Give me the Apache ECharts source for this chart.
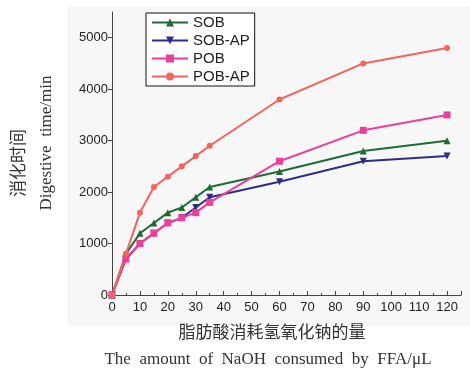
<!DOCTYPE html>
<html>
<head>
<meta charset="utf-8">
<script src="https://cdn.jsdelivr.net/npm/echarts@6/dist/echarts.min.js"></script>
<style>
  html, body { margin: 0; padding: 0; background: #fff; }
  #chart { width: 470px; height: 381px; }
</style>
</head>
<body>
<div id="chart"></div>
<script>
// NaOH consumed by FFA (μL)
const amounts = [0, 5, 10, 15, 20, 25, 30, 35, 60, 90, 120];
const sob = [0, 800, 1200, 1400, 1600, 1700, 1900, 2100, 2400, 2800, 3000];
const sobAp = [0, 700, 1000, 1200, 1400, 1500, 1700, 1900, 2200, 2600, 2700];
const pob = [0, 700, 1000, 1200, 1400, 1500, 1600, 1800, 2600, 3200, 3500];
const pobAp = [0, 800, 1600, 2100, 2300, 2500, 2700, 2900, 3800, 4500, 4800];

const pairs = arr => amounts.map((x, i) => [x, arr[i]]);

const chart = echarts.init(document.getElementById('chart'));

function line(name, data, color, symbol, rotate) {
  return {
    name, type: 'line', data: pairs(data),
    symbol, symbolSize: symbol === 'circle' ? 6 : 7, symbolRotate: rotate || 0,
    lineStyle: { color, width: 2 },
    itemStyle: { color },
    animation: false
  };
}

chart.setOption({
  backgroundColor: '#fff',
  graphic: [
    { type: 'rect', z: -10, shape: { x: 67, y: 7, width: 403, height: 319 }, style: { fill: '#f7f7f7' } },
    { type: 'text', x: 18, y: 163, rotation: Math.PI / 2, style: { text: '消化时间', font: '17px "Noto Sans CJK SC"', fill: '#333', align: 'center', verticalAlign: 'middle' } },
    { type: 'text', x: 47, y: 143, rotation: Math.PI / 2, style: { text: 'Digestive  time/min', font: '17px "Liberation Serif"', fill: '#333', align: 'center', verticalAlign: 'middle' } },
    { type: 'text', x: 272, y: 332, style: { text: '脂肪酸消耗氢氧化钠的量', font: '17px "Noto Sans CJK SC"', fill: '#333', align: 'center', verticalAlign: 'middle' } },
    { type: 'text', x: 268, y: 360, style: { text: 'The  amount  of  NaOH  consumed  by  FFA/μL', font: '17px "Liberation Serif"', fill: '#333', align: 'center', verticalAlign: 'middle' } }
  ],
  grid: { left: 112, right: 9, top: 12, bottom: 86 },
  legend: {
    orient: 'vertical', left: 146, top: 13,
    data: ['SOB', 'SOB-AP', 'POB', 'POB-AP'],
    borderColor: '#111', borderWidth: 1, backgroundColor: '#fff',
    padding: [2, 5, 2, 5], itemGap: 3, itemWidth: 36, itemHeight: 10,
    textStyle: { fontFamily: 'Liberation Sans', fontSize: 15, color: '#222' }
  },
  xAxis: {
    type: 'value', min: 0, max: 125, interval: 10,
    axisLine: { lineStyle: { color: '#444', width: 1 } },
    axisTick: { inside: true, length: 4, lineStyle: { color: '#444' } },
    minorTick: { show: true, splitNumber: 2, length: 2, lineStyle: { color: '#444' } },
    axisLabel: { showMaxLabel: false, color: '#222', fontFamily: 'Liberation Sans', fontSize: 13, margin: 6 },
    splitLine: { show: false }
  },
  yAxis: {
    type: 'value', min: 0, max: 5500, interval: 1000,
    axisLine: { show: true, lineStyle: { color: '#444', width: 1 } },
    axisTick: { show: true, inside: false, length: 4, lineStyle: { color: '#444' } },
    axisLabel: { showMaxLabel: false, formatter: v => String(v), color: '#222', fontFamily: 'Liberation Sans', fontSize: 13, margin: 4 },
    splitLine: { show: false }
  },
  series: [
    line('SOB', sob, '#1d6b35', 'triangle'),
    line('SOB-AP', sobAp, '#2e2c86', 'triangle', 180),
    line('POB', pob, '#ec3f98', 'rect'),
    line('POB-AP', pobAp, '#f2655e', 'circle')
  ]
});
</script>
</body>
</html>
